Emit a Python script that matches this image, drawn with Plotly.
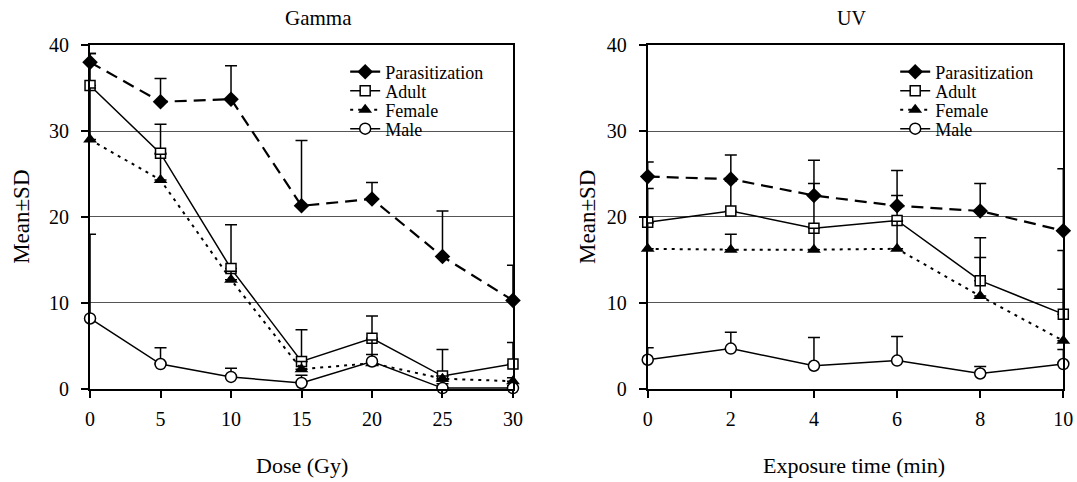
import plotly.graph_objects as go
from plotly.subplots import make_subplots

# ---- data ----
dose = [0, 5, 10, 15, 20, 25, 30]
g_par = [38.0, 33.4, 33.7, 21.3, 22.1, 15.4, 10.3]
g_par_sd = [1.0, 2.7, 3.9, 7.6, 1.9, 5.3, 4.1]
g_adult = [35.3, 27.4, 14.0, 3.2, 5.9, 1.5, 2.9]
g_adult_sd = [3.7, 3.4, 5.1, 3.7, 2.6, 3.1, 2.5]
g_female = [29.0, 24.3, 12.7, 2.3, 3.0, 1.2, 0.9]
g_female_sd = [6.0, 3.0, 1.0, 0.9, 1.0, 0.3, 0.4]
g_male = [8.2, 2.9, 1.4, 0.7, 3.2, 0.1, 0.1]
g_male_sd = [9.8, 1.9, 1.0, 0.9, 2.5, 0.5, 0.3]

time = [0, 2, 4, 6, 8, 10]
u_par = [24.7, 24.4, 22.5, 21.3, 20.7, 18.4]
u_par_sd = [1.7, 2.8, 4.1, 4.1, 3.2, 7.2]
u_adult = [19.4, 20.7, 18.7, 19.6, 12.6, 8.7]
u_adult_sd = [3.9, 3.5, 5.2, 2.9, 5.0, 7.4]
u_female = [16.3, 16.2, 16.2, 16.3, 10.8, 5.6]
u_female_sd = [3.0, 1.8, 2.5, 3.2, 4.5, 6.0]
u_male = [3.4, 4.7, 2.7, 3.3, 1.8, 2.9]
u_male_sd = [1.4, 1.9, 3.3, 2.8, 0.8, 1.7]

names = ["Parasitization", "Adult", "Female", "Male"]

FONT = "Liberation Serif"

styles = [
    dict(line=dict(color="black", width=2.2, dash="12px,7px"),
         marker=dict(symbol="diamond", size=12, color="black")),
    dict(line=dict(color="black", width=1.5),
         marker=dict(symbol="square", size=10, color="white",
                     line=dict(color="black", width=1.5))),
    dict(line=dict(color="black", width=2, dash="3px,5px"),
         marker=dict(symbol="triangle-up", size=12, color="black")),
    dict(line=dict(color="black", width=1.5),
         marker=dict(symbol="circle", size=11, color="white",
                     line=dict(color="black", width=1.5))),
]

fig = make_subplots(rows=1, cols=2)

panels = [
    (1, dose, [g_par, g_adult, g_female, g_male],
     [g_par_sd, g_adult_sd, g_female_sd, g_male_sd], 0),
    (2, time, [u_par, u_adult, u_female, u_male],
     [u_par_sd, u_adult_sd, u_female_sd, u_male_sd], 4),
]

def leg_id(k):
    return "legend" if k == 0 else "legend%d" % (k + 1)

for col, xs, ys, sds, off in panels:
    for i, (name, y, sd, st) in enumerate(zip(names, ys, sds, styles)):
        fig.add_trace(go.Scatter(
            x=xs, y=y, name=name, mode="lines+markers",
            line=st["line"], marker=st["marker"],
            error_y=dict(type="data", array=sd, arrayminus=[0] * len(sd),
                         symmetric=False, color="black", thickness=1.5, width=6),
            cliponaxis=False, legend=leg_id(off + i),
        ), row=1, col=col)

axis_common = dict(showline=True, linecolor="black", linewidth=2, mirror=True,
                   ticks="outside", ticklen=7, tickcolor="black", tickwidth=1.5,
                   tickfont=dict(family=FONT, size=20, color="black"),
                   automargin=False)

fig.update_xaxes(**axis_common, showgrid=False, zeroline=False, ticklabelstandoff=4)
fig.update_yaxes(**axis_common, showgrid=True, gridcolor="#555", gridwidth=1,
                 zeroline=False, range=[0, 40], tickvals=[0, 10, 20, 30, 40],
                 ticklabelstandoff=8)

fig.update_xaxes(range=[0, 30], tickvals=dose, domain=[0.0836, 0.4763], row=1, col=1)
fig.update_xaxes(range=[0, 10], tickvals=time, domain=[0.6014, 0.9873], row=1, col=2)
fig.update_yaxes(domain=[0.193, 0.9066])

# one legend per entry so row spacing can match the reference
row_y = [0.8506, 0.8112, 0.7718, 0.7324]
legends = {}
for p, lx in enumerate([0.3205, 0.8312]):
    for i, ly in enumerate(row_y):
        legends[leg_id(p * 4 + i)] = dict(
            bgcolor="rgba(0,0,0,0)", borderwidth=0, x=lx, y=ly,
            xanchor="left", yanchor="middle",
            font=dict(family=FONT, size=18, color="black"))

fig.update_layout(
    width=1077, height=482,
    margin=dict(l=0, r=0, t=0, b=0),
    paper_bgcolor="white", plot_bgcolor="white",
    showlegend=True,
    font=dict(family=FONT, color="black"),
    **legends,
)

# white band hiding the 30-gridline behind the legend
for x0, x1 in [(0.2878, 0.4689), (0.8004, 0.9796)]:
    fig.add_shape(type="rect", xref="paper", yref="paper", x0=x0, x1=x1,
                  y0=0.715, y1=0.745, fillcolor="white", line_width=0,
                  layer="between")

def ann(text, x, y, size, angle=0):
    fig.add_annotation(text=text, x=x, y=y, xref="paper", yref="paper",
                       xanchor="center", yanchor="middle", showarrow=False,
                       textangle=angle,
                       font=dict(family=FONT, size=size, color="black"))

ann("Gamma", 0.2953, 0.9627, 21)
ann("UV", 0.791, 0.9627, 20)
ann("Dose (Gy)", 0.28, 0.035, 22)
ann("Exposure time (min)", 0.793, 0.035, 22)
ann("Mean±SD", 0.0204, 0.55, 23, -90)
ann("Mean±SD", 0.546, 0.55, 23, -90)

fig.write_html("out.html", config={"displayModeBar": False},
               post_script="document.body.style.margin='0';")
